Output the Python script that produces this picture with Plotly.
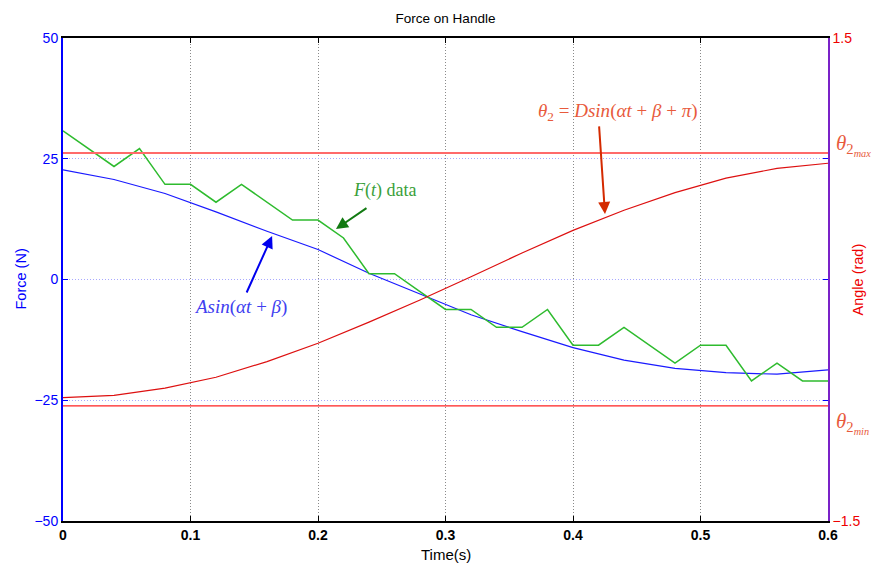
import plotly.graph_objects as go

# Measured handle force (N), sampled every 0.02 s
t_data = [0.00, 0.02, 0.04, 0.06, 0.08, 0.10, 0.12, 0.14, 0.16, 0.18, 0.20,
          0.22, 0.24, 0.26, 0.28, 0.30, 0.32, 0.34, 0.36, 0.38, 0.40,
          0.42, 0.44, 0.46, 0.48, 0.50, 0.52, 0.54, 0.56, 0.58, 0.60]
f_data = [30.8, 27.1, 23.4, 27.1, 19.7, 19.7, 16.0, 19.7, 16.0, 12.3, 12.3,
          8.6, 1.2, 1.2, -2.5, -6.2, -6.2, -9.9, -9.9, -6.2, -13.6,
          -13.6, -9.9, -13.6, -17.3, -13.6, -13.6, -21.0, -17.3, -21.0, -21.0]

# Fitted force A*sin(alpha*t + beta)
t_fit = [0.00, 0.04, 0.08, 0.12, 0.16, 0.20, 0.24, 0.28, 0.32, 0.36,
         0.40, 0.44, 0.48, 0.52, 0.56, 0.60]
f_fit = [22.7, 20.7, 17.8, 14.0, 10.0, 6.2, 1.3, -3.0, -7.3, -10.8,
         -14.1, -16.7, -18.4, -19.3, -19.6, -18.7]

# Handle angle theta_2 (rad)
t_ang = [0.00, 0.04, 0.08, 0.12, 0.16, 0.20, 0.24, 0.28, 0.32,
         0.36, 0.40, 0.44, 0.48, 0.52, 0.56, 0.60]
theta2 = [-0.734, -0.720, -0.675, -0.607, -0.510, -0.396, -0.265,
          -0.127, 0.017, 0.165, 0.305, 0.430, 0.540, 0.630, 0.690, 0.722]

# Angle limits (rad)
theta_max = 0.785
theta_min = -0.785

x_ticks = [0, 0.1, 0.2, 0.3, 0.4, 0.5, 0.6]
force_ticks = [-50, -25, 0, 25, 50]
angle_ticks = [-1.5, 1.5]

fig = go.Figure()

fig.add_trace(go.Scatter(x=[0, 0.6], y=[theta_max, theta_max], yaxis="y2",
                         mode="lines", line=dict(color="#ff6a6a", width=2),
                         showlegend=False, hoverinfo="skip"))
fig.add_trace(go.Scatter(x=[0, 0.6], y=[theta_min, theta_min], yaxis="y2",
                         mode="lines", line=dict(color="#ff2020", width=1.3),
                         showlegend=False, hoverinfo="skip"))
fig.add_trace(go.Scatter(x=t_ang, y=theta2, yaxis="y2", mode="lines",
                         line=dict(color="#dd1010", width=1.2),
                         showlegend=False))
fig.add_trace(go.Scatter(x=t_fit, y=f_fit, mode="lines",
                         line=dict(color="#1a1aff", width=1.2),
                         showlegend=False))
fig.add_trace(go.Scatter(x=t_data, y=f_data, mode="lines",
                         line=dict(color="#2ebb2e", width=1.5),
                         showlegend=False))

serif = "Liberation Serif"
sans = "Liberation Sans"
annotations = [
    # equation labels
    dict(x=0.435, y=1.04, xref="x", yref="y2", showarrow=False,
         text="<i>θ</i><sub>2</sub> = <i>Dsin</i>(<i>αt</i> + <i>β</i> + <i>π</i>)",
         font=dict(family=serif, size=19, color="#e85a3c")),
    dict(x=0.4251, y=0.407, xref="x", yref="y2", axref="x", ayref="y2",
         ax=0.4204, ay=0.96, text="", showarrow=True, arrowhead=2,
         arrowsize=1.2, arrowwidth=2, arrowcolor="#d42a00"),
    dict(x=0.2525, y=18.5, xref="x", yref="y", showarrow=False,
         text="<i>F</i>(<i>t</i>) data",
         font=dict(family=serif, size=18, color="#3aa03a")),
    dict(x=0.2141, y=10.45, xref="x", yref="y", axref="x", ayref="y",
         ax=0.2392, ay=15.0, text="", showarrow=True, arrowhead=2,
         arrowsize=1.2, arrowwidth=2, arrowcolor="#127a12"),
    dict(x=0.139, y=-5.7, xref="x", yref="y", showarrow=False,
         text="<i>Asin</i>(<i>αt</i> + <i>β</i>)",
         font=dict(family=serif, size=19, color="#4040f0")),
    dict(x=0.164, y=9.0, xref="x", yref="y", axref="x", ayref="y",
         ax=0.1435, ay=-3.0, text="", showarrow=True, arrowhead=2,
         arrowsize=1.2, arrowwidth=2, arrowcolor="#0000ee"),
    # limit labels beside the right axis
    dict(x=1.008, y=0.835, xref="paper", yref="y2", xanchor="left", showarrow=False,
         text="<i>θ</i><sub>2<sub><i>max</i></sub></sub>",
         font=dict(family=serif, size=21, color="#e85a3c")),
    dict(x=1.008, y=-0.89, xref="paper", yref="y2", xanchor="left", showarrow=False,
         text="<i>θ</i><sub>2<sub><i>min</i></sub></sub>",
         font=dict(family=serif, size=21, color="#e85a3c")),
    # axis titles
    dict(x=-0.0562, y=0.5, xref="paper", yref="paper", xanchor="center", yanchor="middle",
         textangle=-90, showarrow=False,
         text="Force (N)", font=dict(family=sans, size=14.5, color="#0000ff")),
    dict(x=1.0392, y=0.5, xref="paper", yref="paper", xanchor="center", yanchor="middle",
         textangle=-90, showarrow=False,
         text="Angle (rad)", font=dict(family=sans, size=14.5, color="#ee0000")),
    dict(x=0.5, y=-0.07, xref="paper", yref="paper", yanchor="middle", showarrow=False,
         text="Time(s)", font=dict(family=sans, size=15, color="#000000")),
]

fig.update_layout(
    width=881, height=564,
    margin=dict(l=63, r=53, t=38, b=43),
    paper_bgcolor="white", plot_bgcolor="white",
    title=dict(text="Force on Handle", x=0.5, xref="paper", y=1 - 18 / 564,
               yanchor="middle", font=dict(family=sans, size=13.5, color="#000000")),
    xaxis=dict(range=[0, 0.6], tickvals=x_ticks, ticktext=["0", "0.1", "0.2", "0.3", "0.4", "0.5", "0.6"],
               ticks="inside", ticklen=5, tickcolor="#000000",
               showline=True, linecolor="#000000", linewidth=2, mirror="ticks",
               showgrid=True, gridcolor="#8a8a8a", griddash="1px,2px", gridwidth=1,
               zeroline=False,
               tickfont=dict(family=sans, size=14, color="#000000", weight="bold")),
    yaxis=dict(range=[-50, 50], tickvals=force_ticks,
               ticks="inside", ticklen=5, tickcolor="#0000ff",
               showline=True, linecolor="#0000ff", linewidth=2, mirror="ticks",
               showgrid=True, gridcolor="#a8a8ff", griddash="1px,2px", gridwidth=1,
               zeroline=False,
               tickfont=dict(family=sans, size=14, color="#0000ff")),
    yaxis2=dict(range=[-1.5, 1.5], tickvals=angle_ticks, ticktext=["−1.5", "1.5"],
                overlaying="y", side="right",
                ticks="inside", ticklen=5, tickcolor="#ee0000",
                showline=True, linecolor="#7a22c8", linewidth=1.5,
                showgrid=False, zeroline=False,
                tickfont=dict(family=sans, size=14, color="#ee0000")),
    annotations=annotations,
    showlegend=False,
)

fig.write_html("out.html")
